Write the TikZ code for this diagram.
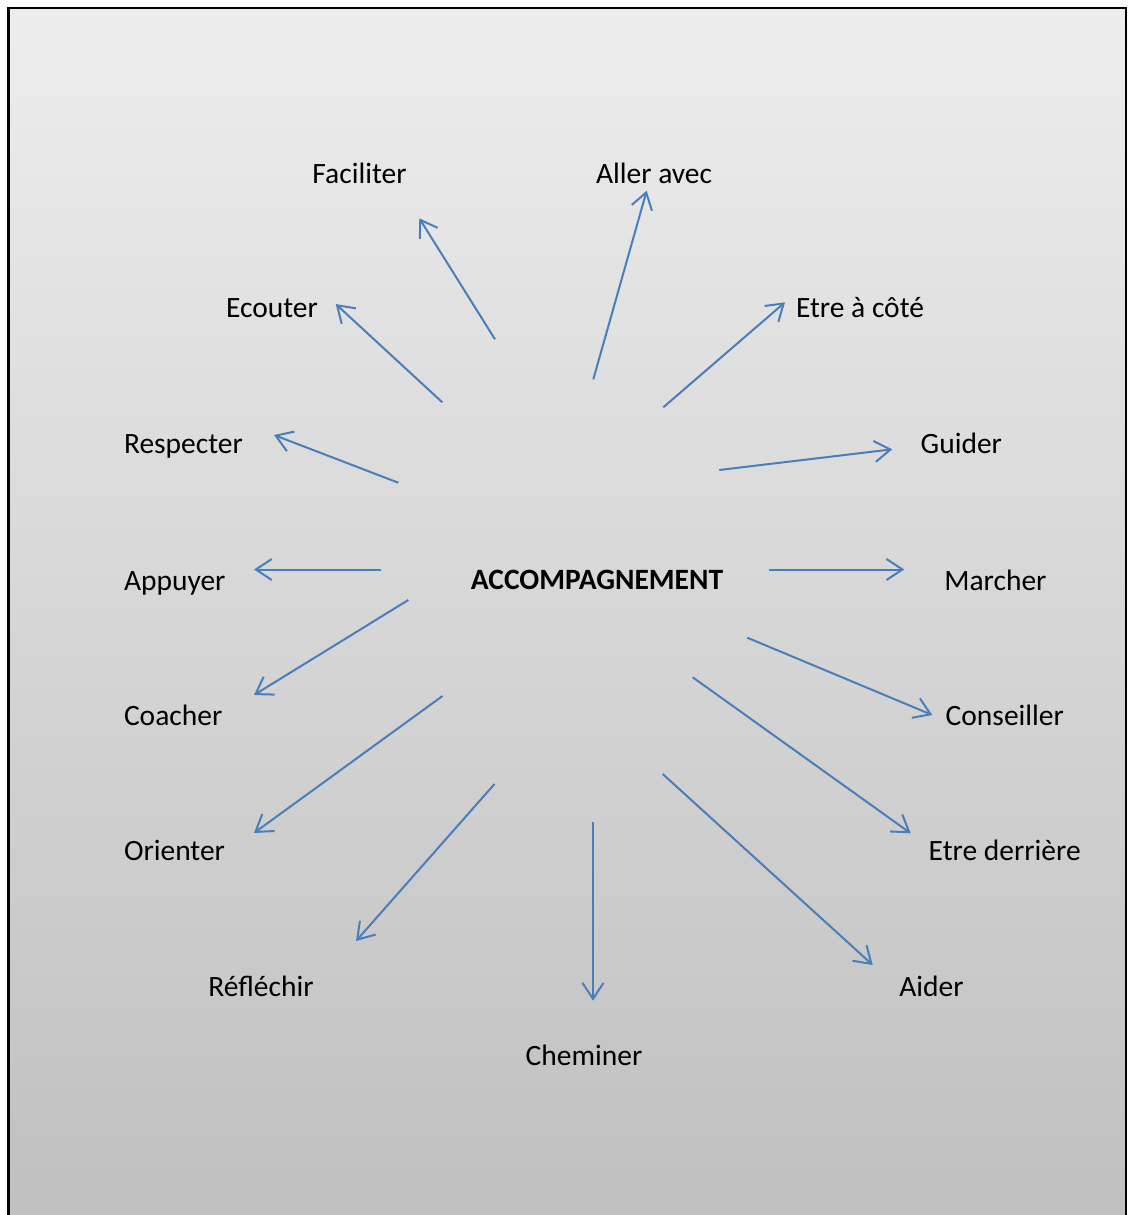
\documentclass[tikz,border=0pt]{standalone}
\usepackage{fontspec}
\setmainfont{Carlito}
\usetikzlibrary{arrows.meta}
\definecolor{arrowblue}{RGB}{74,126,187}
\definecolor{bgtop}{RGB}{237,237,237}
\definecolor{bgbottom}{RGB}{191,191,191}
\tikzset{
  lbl/.style={inner sep=0pt, outer sep=0pt, font=\fontsize{29.5}{35}\selectfont, text=black},
  conn/.style={draw=arrowblue, line width=2pt, -{Straight Barb[length=16pt,width=21pt]}},
}
\begin{document}
\begin{tikzpicture}[x=1pt,y=-1pt]
\clip (0,0) rectangle (1127,1215);
\useasboundingbox (0,0) rectangle (1127,1215);
% background and frame
\shade[top color=bgtop, bottom color=bgbottom] (8.3,8.3) rectangle (1126,1235);
\draw[line width=2.4pt, black] (8.3,1240) -- (8.3,8.3) -- (1126,8.3) -- (1126,1240);

% centre
\node[lbl, font=\fontsize{29.5}{35}\selectfont\bfseries, anchor=base] (acc) at (597,589.3) {ACCOMPAGNEMENT};

% labels
\node[lbl, anchor=base] (l1) at (359.5,183) {Faciliter};
\node[lbl, anchor=base west] (l2) at (596,183) {Aller avec};
\node[lbl, anchor=base west] (l3) at (796,317.3) {Etre à côté};
\node[lbl, anchor=base west] (l4) at (920.7,453.3) {Guider};
\node[lbl, anchor=base west] (l5) at (944.3,590) {Marcher};
\node[lbl, anchor=base west] (l6) at (945.7,725.7) {Conseiller};
\node[lbl, anchor=base west] (l7) at (928.7,860.7) {Etre derrière};
\node[lbl, anchor=base west] (l8) at (899.3,996) {Aider};
\node[lbl, anchor=base] (l9) at (584,1065) {Cheminer};
\node[lbl, anchor=base] (l10) at (261,996) {Réfléchir};
\node[lbl, anchor=base west] (l11) at (124,860.7) {Orienter};
\node[lbl, anchor=base west] (l12) at (124,725.7) {Coacher};
\node[lbl, anchor=base west] (l13) at (124,590) {Appuyer};
\node[lbl, anchor=base west] (l14) at (124,453.3) {Respecter};
\node[lbl, anchor=base west] (l15) at (226,317.3) {Ecouter};

% arrow end points
\coordinate (s1) at (495,339.3);   \coordinate (t1) at (419.3,218.3);
\coordinate (s2) at (593.3,379.3); \coordinate (t2) at (646.7,190.7);
\coordinate (s3) at (663.3,407.3); \coordinate (t3) at (785,302.3);
\coordinate (s4) at (719.3,470);   \coordinate (t4) at (892.3,449.3);
\coordinate (s5) at (769.3,569.5); \coordinate (t5) at (904.3,569.5);
\coordinate (s6) at (747.3,637.7); \coordinate (t6) at (932.3,715);
\coordinate (s7) at (692.7,677.3); \coordinate (t7) at (910.7,833.3);
\coordinate (s8) at (662.7,774);   \coordinate (t8) at (872.7,965);
\coordinate (s9) at (593,822);     \coordinate (t9) at (593,1000.7);
\coordinate (s10) at (494.5,784);  \coordinate (t10) at (356,941);
\coordinate (s11) at (442.5,696);  \coordinate (t11) at (254,833);
\coordinate (s12) at (408.3,600);  \coordinate (t12) at (254,695);
\coordinate (s13) at (380.7,569.5); \coordinate (t13) at (254,569.5);
\coordinate (s14) at (398.3,482.7); \coordinate (t14) at (274,435);
\coordinate (s15) at (442.3,402.3); \coordinate (t15) at (335.7,304);

\foreach \i in {1,...,15}{
  \draw[conn] (s\i) -- (t\i);
}
\end{tikzpicture}
\end{document}
